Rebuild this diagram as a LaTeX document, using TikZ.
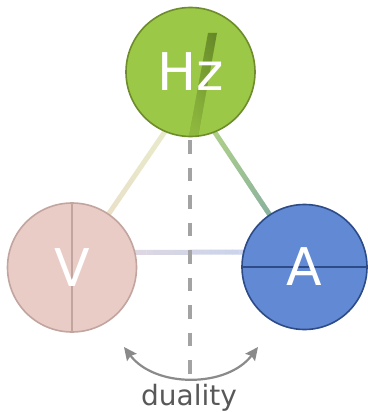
\documentclass[tikz,border=0pt]{standalone}
\usepackage{fontspec}
\setmainfont{DejaVu Sans}
\usetikzlibrary{arrows.meta,calc,fadings}
\pgfdeclarelayer{background}
\pgfsetlayers{background,main}

\definecolor{hzfill}{HTML}{9BC846}
\definecolor{hzdraw}{HTML}{6E8C2C}
\definecolor{hzdark}{HTML}{4E6B1A}
\definecolor{vfill}{HTML}{EACCC6}
\definecolor{vdraw}{HTML}{C3A5A0}
\definecolor{afill}{HTML}{6289D4}
\definecolor{adraw}{HTML}{2D4B87}
\definecolor{lnA}{HTML}{E8EBCA}
\definecolor{lnB}{HTML}{EAE0C8}
\definecolor{lnC}{HTML}{B2D387}
\definecolor{lnD}{HTML}{86AFA0}
\definecolor{lnE}{HTML}{DED7E1}
\definecolor{lnF}{HTML}{C9D4EC}
\definecolor{dashgray}{HTML}{A3A3A3}
\definecolor{arcgray}{HTML}{8A8A8A}
\definecolor{txtgray}{HTML}{585858}

% line whose colour runs from #3 to #4 between the points #1 and #2
\newcommand{\gradline}[4]{%
  \foreach \i in {0,...,15}{%
    \pgfmathsetmacro\ta{\i/16}%
    \pgfmathsetmacro\tb{(\i+1.05)/16}%
    \pgfmathsetmacro\mx{100-100*(\i+0.5)/16}%
    \draw[line width=5pt, color={#3!\mx!#4}]
      ($(#1)!\ta!(#2)$) -- ($(#1)!\tb!(#2)$);
  }%
}

\tikzset{
  unit/.style={circle, line width=1.6pt, inner sep=0pt,
    font=\fontsize{52}{52}\selectfont, text=white},
}

\begin{document}
\begin{tikzpicture}[x=1pt,y=-1pt]
\useasboundingbox (0,0) rectangle (367,412);

% the three quantities
\node[unit, minimum size=129pt, fill=hzfill, draw=hzdraw,
  path picture={
    \shade[left color=hzfill, right color=hzdark]
      ($(path picture bounding box.center)+(17.5,-39)$) --
      ($(path picture bounding box.center)+(26.5,-39)$) --
      ($(path picture bounding box.center)+(6.5,70)$) --
      ($(path picture bounding box.center)+(-2.5,70)$) -- cycle;
    \fill[hzfill, fill opacity=0.75, path fading=north]
      ($(path picture bounding box.center)+(17.5,-39)$) --
      ($(path picture bounding box.center)+(26.5,-39)$) --
      ($(path picture bounding box.center)+(6.5,70)$) --
      ($(path picture bounding box.center)+(-2.5,70)$) -- cycle;
  }] (hz) at (190.5,72) {Hz};

\node[unit, minimum size=129pt, fill=vfill, draw=vdraw,
  path picture={
    \draw[vdraw, line width=1.6pt]
      (path picture bounding box.north) -- (path picture bounding box.south);
  }] (v) at (72,267.5) {V};

\node[unit, minimum size=125pt, fill=afill, draw=adraw,
  path picture={
    \draw[adraw, line width=1.6pt]
      (path picture bounding box.west) -- (path picture bounding box.east);
  }] (a) at (304.5,267) {A};

% connectors, behind the circles
\coordinate (apex) at (190,95);
\coordinate (dtop) at (190,140);
\coordinate (dbot) at (190,374);
\begin{pgfonlayer}{background}
  \gradline{$(apex)!0.17!(v)$}{$(apex)!0.74!(v)$}{lnA}{lnB}
  \gradline{$(apex)!0.17!(a)$}{$(apex)!0.74!(a)$}{lnC}{lnD}
  \gradline{$(v.center)+(60,-15)$}{$(a.center)+(-58,-15)$}{lnE}{lnF}
  \draw[dashgray, line width=4.5pt, dash pattern=on 13.5pt off 14pt]
    (dtop) -- (dbot);
\end{pgfonlayer}

% duality
\coordinate (arcl) at (124,347);
\coordinate (arcr) at (258,347);
\draw[arcgray, line width=2.2pt,
  {Stealth[length=13pt,width=12pt,inset=2pt]}-{Stealth[length=13pt,width=12pt,inset=2pt]}]
  (arcl) .. controls (155,388) and (227,388) .. (arcr);
\node[anchor=base, text=txtgray, font=\fontsize{28}{28}\selectfont, inner sep=0pt]
  (dual) at (189,405) {duality};
\end{tikzpicture}
\end{document}
